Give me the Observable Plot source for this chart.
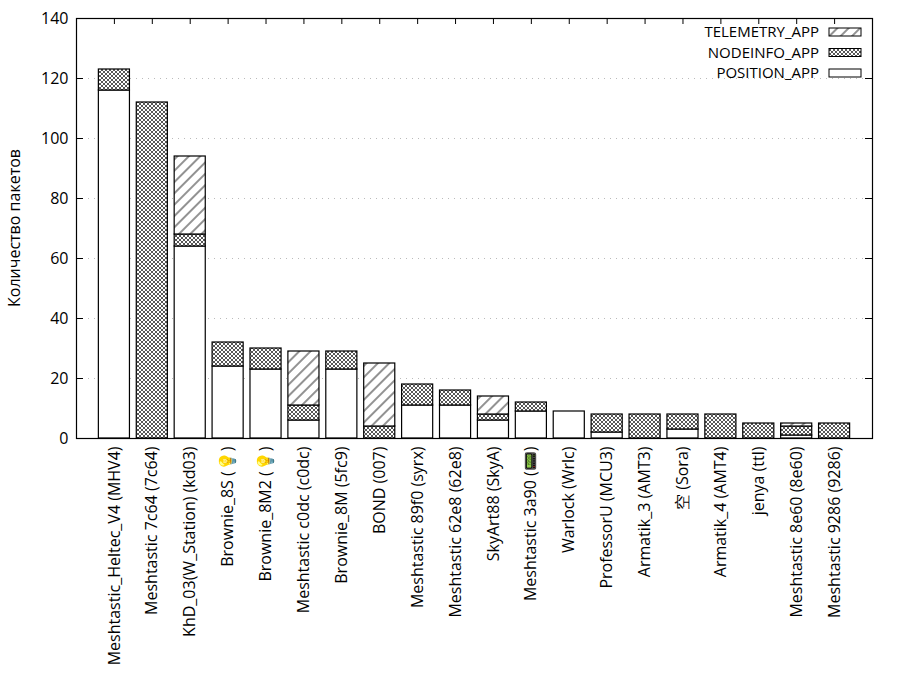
<!DOCTYPE html>
<html>
<head>
<meta charset="utf-8">
<script src="https://cdn.jsdelivr.net/npm/d3@7"></script>
<script src="https://cdn.jsdelivr.net/npm/@observablehq/plot@0.6"></script>
<style>
  html, body { margin: 0; padding: 0; background: white; }
  #chart { width: 900px; height: 700px; }
</style>
</head>
<body>
<div id="chart"></div>
<script>
const names = [
  "Meshtastic_Heltec_V4 (MHV4)", "Meshtastic 7c64 (7c64)", "KhD_03(W_Station) (kd03)",
  "Brownie_8S (💡)", "Brownie_8M2 (💡)", "Meshtastic c0dc (c0dc)", "Brownie_8M (5fc9)",
  "BOND (007)", "Meshtastic 89f0 (syrx)", "Meshtastic 62e8 (62e8)", "SkyArt88 (SkyA)",
  "Meshtastic 3a90 (📟)", "Warlock (Wrlc)", "ProfessorU (MCU3)", "Armatik_3 (AMT3)",
  "空 (Sora)", "Armatik_4 (AMT4)", "jenya (ttl)", "Meshtastic 8e60 (8e60)", "Meshtastic 9286 (9286)"
];
const position  = [116, 0, 64, 24, 23, 6, 23, 0, 11, 11, 6, 9, 9, 2, 0, 3, 0, 0, 1, 0];
const nodeinfo  = [7, 112, 4, 8, 7, 5, 6, 4, 7, 5, 2, 3, 0, 6, 8, 5, 8, 5, 3, 5];
const telemetry = [0, 0, 26, 0, 0, 18, 0, 21, 0, 0, 6, 0, 0, 0, 0, 0, 0, 0, 1, 0];
const series = ["POSITION_APP", "NODEINFO_APP", "TELEMETRY_APP"];
const patternIds = ["url(#pPos)", "url(#pNode)", "url(#pTele)"];
const yTicks = [0, 20, 40, 60, 80, 100, 120, 140];
const yLabel = "Количество пакетов";

const seriesValues = [position, nodeinfo, telemetry];
const rows = [];
names.forEach((n, i) => {
  series.forEach((s, k) => {
    if (seriesValues[k][i] > 0) rows.push({name: n, series: s, value: seriesValues[k][i]});
  });
});

const FONT = "'Open Sans', 'DejaVu Sans', sans-serif";
const FS = 16;
const W = 900, H = 700, mL = 76, mR = 28, mT = 18, mB = 262;
const plotW = W - mL - mR, plotH = H - mT - mB;

const chart = Plot.plot({
  width: W, height: H,
  marginLeft: mL, marginRight: mR, marginTop: mT, marginBottom: mB,
  style: {fontFamily: FONT, fontSize: FS + "px", background: "white", color: "black"},
  x: {type: "band", domain: names, paddingInner: 0.18, paddingOuter: 0.59, round: false},
  y: {domain: [0, 140]},
  color: {type: "ordinal", domain: series, range: patternIds},
  marks: [
    Plot.ruleY(yTicks.slice(1, -1), {y: d => d, stroke: "#bbb", strokeDasharray: "1,5"}),
    Plot.barY(rows, {x: "name", y: "value", fill: "series", stroke: "black", strokeWidth: 1.2}),
    Plot.ruleY(yTicks, {y: d => d, stroke: "black", insetRight: plotW - 7}),
    Plot.ruleY(yTicks, {y: d => d, stroke: "black", insetLeft: plotW - 7}),
    Plot.ruleX(names, {x: d => d, stroke: "black", insetBottom: plotH - 6}),
    Plot.frame({stroke: "black", strokeWidth: 1.2}),
    Plot.axisY({ticks: yTicks, tickSize: 0, tickPadding: 8, label: null, fontSize: FS}),
    Plot.axisX({tickSize: 0, tickRotate: -90, tickPadding: 8, label: null, fontSize: FS})
  ]
});

const svg = d3.select(chart);
const defs = svg.insert("defs", ":first-child");
const pPos = defs.append("pattern").attr("id", "pPos").attr("patternUnits", "userSpaceOnUse")
  .attr("width", 4).attr("height", 4);
pPos.append("rect").attr("width", 4).attr("height", 4).attr("fill", "white");

const pNode = defs.append("pattern").attr("id", "pNode").attr("patternUnits", "userSpaceOnUse")
  .attr("width", 4).attr("height", 4);
pNode.append("rect").attr("width", 4).attr("height", 4).attr("fill", "white");
pNode.append("path").attr("d", "M0,0L4,4M4,0L0,4").attr("stroke", "#444").attr("stroke-width", 0.9);

const pTele = defs.append("pattern").attr("id", "pTele").attr("patternUnits", "userSpaceOnUse")
  .attr("width", 8).attr("height", 8).attr("patternTransform", "rotate(45)");
pTele.append("rect").attr("width", 8).attr("height", 8).attr("fill", "white");
pTele.append("line").attr("x1", 4).attr("y1", 0).attr("x2", 4).attr("y2", 8)
  .attr("stroke", "#777").attr("stroke-width", 1.6);

// y axis title
svg.append("text")
  .attr("transform", `translate(20,${mT + plotH / 2}) rotate(-90)`)
  .attr("text-anchor", "middle")
  .attr("font-family", FONT)
  .attr("font-size", FS)
  .text(yLabel);

// legend (top-right, inside)
const legend = svg.append("g")
  .attr("font-family", FONT)
  .attr("font-size", 15);
series.slice().reverse().forEach((s, i) => {
  const cy = 32 + i * 20.5;
  const k = series.indexOf(s);
  legend.append("text").attr("x", 819).attr("y", cy).attr("dy", "0.35em")
    .attr("text-anchor", "end").text(s);
  legend.append("rect").attr("x", 829).attr("y", cy - 4).attr("width", 32).attr("height", 8)
    .attr("fill", patternIds[k]).attr("stroke", "black").attr("stroke-width", 1);
});

document.getElementById("chart").appendChild(chart);
</script>
</body>
</html>
